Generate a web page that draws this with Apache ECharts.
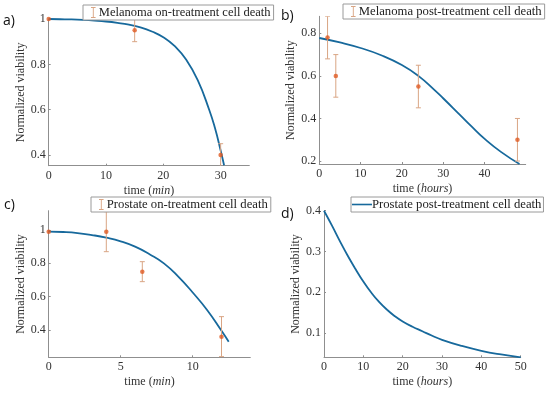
<!DOCTYPE html>
<html>
<head>
<meta charset="utf-8">
<script src="https://cdn.jsdelivr.net/npm/echarts@6/dist/echarts.min.js"></script>
<style>
html,body{margin:0;padding:0;background:#fff;}
#chart{width:550px;height:393px;}
</style>
</head>
<body>
<div id="chart"></div>
<script>
// ---- Data ----
const aCurveT = [0,2,4,6,8,10,12,14,16,18,20,22,24,26,28,29,30,30.6];
const aCurveV = [1,0.999,0.998,0.996,0.993,0.989,0.983,0.975,0.963,0.945,0.92,0.88,0.82,0.73,0.6,0.52,0.42,0.355];
const aPtsT = [0,15,30];
const aPtsV = [1,0.95,0.40];
const aErr  = [0,0.05,0.05];

const bCurveT = [0,5,10,15,20,24,28,30,34,37,40,44,48.5];
const bCurveV = [0.778,0.757,0.731,0.697,0.651,0.600,0.532,0.495,0.418,0.36,0.305,0.243,0.186];
const bPtsT = [2,4,24,48];
const bPtsV = [0.78,0.60,0.55,0.30];
const bErr  = [0.1,0.1,0.1,0.1];

const cCurveT = [0,1,2,3,4,5,6,7,8,9,10,11,12,12.5];
const cCurveV = [0.99,0.988,0.982,0.97,0.954,0.932,0.9,0.855,0.80,0.72,0.625,0.52,0.395,0.33];
const cPtsT = [0,4,6.5,12];
const cPtsV = [0.99,0.99,0.75,0.36];
const cErr  = [0,0.12,0.06,0.12];

const dCurveT = [0,2,4,6,8,10,12,14,16,18,20,22.5,25,27.5,30,35,40,45,50];
const dCurveV = [0.4,0.364,0.326,0.29,0.257,0.226,0.199,0.176,0.157,0.141,0.128,0.115,0.104,0.093,0.083,0.068,0.056,0.047,0.04];

const aXTicks = [0,10,20,30];      const aYTicks = [0.4,0.6,0.8,1];
const bXTicks = [0,10,20,30,40];   const bYTicks = [0.2,0.4,0.6,0.8];
const cXTicks = [0,5,10];          const cYTicks = [0.4,0.6,0.8,1];
const dXTicks = [0,10,20,30,40,50];const dYTicks = [0.1,0.2,0.3,0.4];

const legendNames = ['Melanoma on-treatment cell death','Melanoma post-treatment cell death','Prostate on-treatment cell death','Prostate post-treatment cell death'];
const xUnits = ['min','hours','min','hours'];
const panelLetters = ['a)','b)','c)','d)'];

// ---- Styles ----
const lineColor = '#17699c';
const ptColor = '#e05a22';
const errColor = '#d9a584';
const axisColor = '#8f8f8f';
const serif = 'Liberation Serif';

const grids = [
  {left:48.7, top:19,    width:200.6, height:146.7},
  {left:319.3,top:16.3,  width:206.4, height:147.7},
  {left:48.7, top:210.7, width:201.6, height:146.6},
  {left:324,  top:210.7, width:196.7, height:146.6}
];
const xRanges = [[0,35],[0,50],[0,14],[0,50]];
const yRanges = [[0.353,1],[0.186,0.88],[0.236,1.116],[0.04,0.4]];
const xTicks = [aXTicks,bXTicks,cXTicks,dXTicks];
const yTicks = [aYTicks,bYTicks,cYTicks,dYTicks];
const yNameGaps = [20,22,20,20];

function zip(t,v){return t.map((x,i)=>[x,v[i]]);}
function zip3(t,v,e){return t.map((x,i)=>[x,v[i],e[i]]);}

function renderErr(params, api){
  const x = api.value(0), y = api.value(1), e = api.value(2);
  if(!e) return null;
  const top = api.coord([x, y+e]);
  const bot = api.coord([x, y-e]);
  const w = 2.5;
  const st = {stroke: errColor, lineWidth: 1};
  return {type:'group', children:[
    {type:'line', shape:{x1:top[0],y1:top[1],x2:bot[0],y2:bot[1]}, style:st},
    {type:'line', shape:{x1:top[0]-w,y1:top[1],x2:top[0]+w,y2:top[1]}, style:st},
    {type:'line', shape:{x1:bot[0]-w,y1:bot[1],x2:bot[0]+w,y2:bot[1]}, style:st}
  ]};
}

const xAxes = [], yAxes = [];
for(let i=0;i<4;i++){
  xAxes.push({
    type:'value', gridIndex:i, min:xRanges[i][0], max:xRanges[i][1],
    axisLine:{show:true, onZero:false, lineStyle:{color:axisColor, width:1}},
    axisTick:{show:true, inside:true, length:2, lineStyle:{color:axisColor}, customValues:xTicks[i]},
    axisLabel:{color:'#333', fontFamily:serif, fontSize:12, margin:4, customValues:xTicks[i]},
    splitLine:{show:false},
    name:'{n|time (}{i|'+xUnits[i]+'}{n|)}',
    nameLocation:'middle', nameGap:19,
    nameTextStyle:{fontFamily:serif, rich:{n:{fontFamily:serif,fontSize:12,color:'#333'}, i:{fontFamily:serif,fontSize:12,fontStyle:'italic',color:'#333'}}}
  });
  yAxes.push({
    type:'value', gridIndex:i, min:yRanges[i][0], max:yRanges[i][1],
    axisLine:{show:true, onZero:false, lineStyle:{color:axisColor, width:1}},
    axisTick:{show:true, inside:true, length:2, lineStyle:{color:axisColor}, customValues:yTicks[i]},
    axisLabel:{color:'#333', fontFamily:serif, fontSize:12, margin:3, customValues:yTicks[i]},
    splitLine:{show:false},
    name:'Normalized viability', nameLocation:'middle', nameGap:yNameGaps[i],
    nameTextStyle:{fontFamily:serif, fontSize:12, color:'#333'}
  });
}

const curves = [zip(aCurveT,aCurveV), zip(bCurveT,bCurveV), zip(cCurveT,cCurveV), zip(dCurveT,dCurveV)];
const pts = [zip3(aPtsT,aPtsV,aErr), zip3(bPtsT,bPtsV,bErr), zip3(cPtsT,cPtsV,cErr), null];

const series = [];
for(let i=0;i<4;i++){
  series.push({
    type:'line', name: i===3 ? legendNames[3] : 'fit'+i,
    xAxisIndex:i, yAxisIndex:i, data:curves[i], smooth:0.5, symbol:'none',
    lineStyle:{color:lineColor, width:1.8}, itemStyle:{color:lineColor}, z:2, silent:true
  });
  if(pts[i]){
    series.push({
      type:'custom', name:legendNames[i], xAxisIndex:i, yAxisIndex:i,
      data:pts[i], renderItem:renderErr, itemStyle:{color:errColor}, z:3, clip:true,
      encode:{x:0,y:1}
    });
    series.push({
      type:'scatter', name:'pts'+i, xAxisIndex:i, yAxisIndex:i,
      data:pts[i].map(p=>[p[0],p[1]]), symbol:'circle', symbolSize:4.5,
      itemStyle:{color:ptColor}, z:4, silent:true
    });
  }
}

const errIcon = 'path://M0,0h5v1h-5z M2,1h1v10h-1z M0,11h5v1h-5z';
const legendPos = [
  {left:83, top:5},
  {left:343, top:4},
  {left:91, top:197},
  {left:351, top:197}
];
const legends = legendPos.map((p,i)=>({
  left:p.left, top:p.top, orient:'horizontal',
  data:[ i===3 ? {name:legendNames[i], icon:'path://M0,0h20v1.6h-20z'} : {name:legendNames[i], icon:errIcon} ],
  itemWidth: i===3 ? 20 : 5, itemHeight: i===3 ? 2 : 11,
  itemGap:0,
  padding: i===3 ? [1,2,1,1] : [1,3,1,8],
  borderColor:'#9a9a9a', borderWidth:1, backgroundColor:'#fff',
  textStyle:{fontFamily:serif, fontSize: i===0 ? 12.5 : 12.7, color:'#222', padding:[0,0,0, i===3 ? -5 : -2]},
  selectedMode:false
}));

const letters = [
  {t:'a)', x:3, y:14},
  {t:'b)', x:281, y:9},
  {t:'c)', x:4, y:198},
  {t:'d)', x:281, y:207}
];

const chart = echarts.init(document.getElementById('chart'), null, {renderer:'canvas'});
chart.setOption({
  animation:false,
  backgroundColor:'#fff',
  textStyle:{fontFamily:serif},
  grid: grids.map(g=>Object.assign({outerBoundsMode:'none'}, g)),
  xAxis:xAxes, yAxis:yAxes,
  legend:legends,
  series:series,
  graphic: letters.map(l=>({type:'text', left:l.x, top:l.y, style:{text:l.t, fontFamily:'Open Sans', fontSize:14, fill:'#111'}}))
});
</script>
</body>
</html>
